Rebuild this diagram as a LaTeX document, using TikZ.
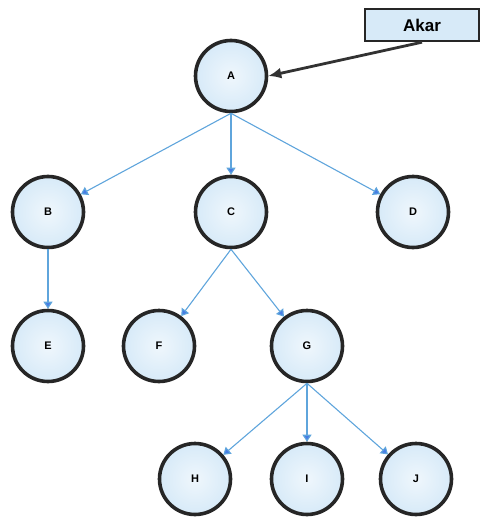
\documentclass[tikz,border=0pt]{standalone}
\usepackage{fontspec}
\setmainfont{Liberation Sans}
\usepackage{xcolor}
\usepackage{tikz}
\usetikzlibrary{arrows.meta,positioning,shadings}

\definecolor{edgeblue}{RGB}{95,165,220}
\definecolor{nodefill}{RGB}{215,234,248}
\definecolor{rootgray}{RGB}{50,50,50}

\begin{document}
\begin{tikzpicture}[
    x=1pt, y=1pt,
    on grid,
    vertex/.style={circle, draw=black!85, line width=3.6pt, minimum size=71pt,
        inner color=white!60!nodefill, outer color=nodefill, font=\bfseries\fontsize{11}{13}\selectfont},
    label box/.style={rectangle, draw=black!85, line width=2.4pt, fill=nodefill,
        minimum width=114pt, minimum height=32pt, font=\bfseries\fontsize{17}{20}\selectfont},
    edge/.style={draw=edgeblue, line width=1.1pt,
        -{Triangle[length=7pt,width=9pt,fill=edgeblue!75!blue]}},
    rootarrow/.style={draw=rootgray, line width=2.8pt, -{Latex[length=13pt,width=11pt]}}
]
\useasboundingbox (0,0) rectangle (481,-519);

% Nodes
\node[vertex] (A) at (231,-76) {A};
\node[vertex, below=136pt of A] (C) {C};
\node[vertex, left=183pt of C] (B) {B};
\node[vertex, right=182pt of C] (D) {D};
\node[vertex, below=134pt of B] (E) {E};
\node[vertex, below left=134pt and 72pt of C] (F) {F};
\node[vertex, below right=134pt and 76pt of C] (G) {G};
\node[vertex, below left=133pt and 112pt of G] (H) {H};
\node[vertex, below=133pt of G] (I) {I};
\node[vertex, below right=133pt and 109pt of G] (J) {J};
\node[label box] (akar) at (422,-25) {Akar};

% Arrows
\draw[edge] (A.south) -- (B);
\draw[edge] (A.south) -- (C);
\draw[edge] (A.south) -- (D);
\draw[edge] (B) -- (E);
\draw[edge] (C.south) -- (F);
\draw[edge] (C.south) -- (G);
\draw[edge] (G.south) -- (H);
\draw[edge] (G.south) -- (I);
\draw[edge] (G.south) -- (J);
\draw[rootarrow] (akar.south) -- (A.east);

\end{tikzpicture}
\end{document}
